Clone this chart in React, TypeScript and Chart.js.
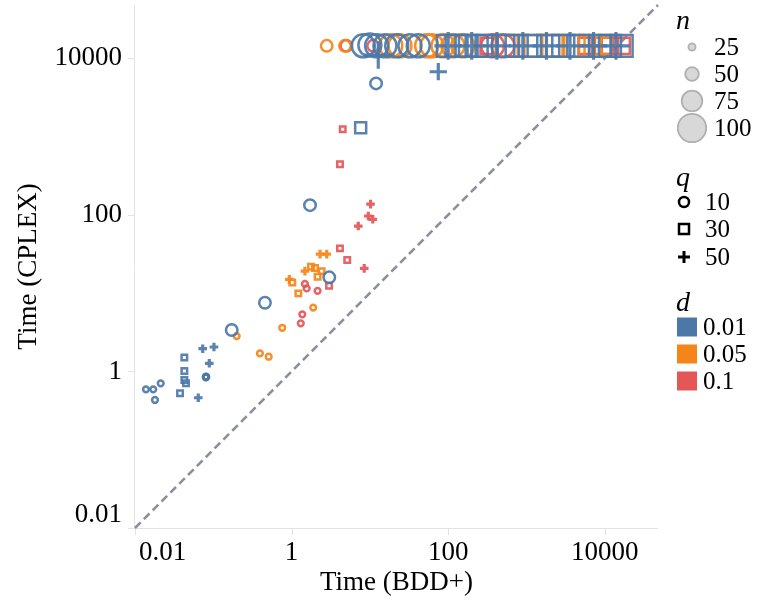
import { useEffect, useRef } from 'react';
import { Chart, registerables } from 'chart.js';

Chart.register(...registerables);

// [Time (BDD+), Time (CPLEX), n]
type Pt = [number, number, number];

const TICK_VALUES = [0.01, 1, 100, 10000];
const TICK_LABELS = ['0.01', '1', '100', '10000'];
const AXIS_MIN = 0.01;
const AXIS_MAX = 47900;
const DIAGONAL = [0.01, 47900];
const N_LEVELS = [25, 50, 75, 100];
const Q_LEVELS = ['10', '30', '50'];
const D_LEVELS = ['0.01', '0.05', '0.1'];
const X_TITLE = 'Time (BDD+)';
const Y_TITLE = 'Time (CPLEX)';

// d = 0.01
const blueCircles: Pt[] = [
  [0.0138, 0.59, 25], [0.0171, 0.59, 25], [0.0213, 0.705, 25], [0.018, 0.432, 25],
  [0.0805, 0.86, 25], [0.0812, 0.85, 25], [0.0808, 0.845, 25], [0.0803, 0.84, 25],
  [0.172, 3.38, 50], [0.457, 7.54, 50], [3.03, 15.9, 50], [1.72, 133, 50], [12.0, 4775, 50],
  [8.24, 14400, 100], [10.0, 14800, 100], [12.2, 14400, 100], [15.6, 14400, 100],
  [22.0, 14400, 100], [32.5, 14400, 100], [41.5, 14400, 100],
];
const blueSquares: Pt[] = [
  [0.0427, 1.51, 25], [0.0427, 1.01, 25], [0.0427, 0.776, 25], [0.0448, 0.705, 25], [0.0376, 0.525, 25],
  [7.63, 1295, 50],
  [99.4, 14400, 100], [128, 14400, 100], [172, 14400, 100], [231, 14400, 100], [310, 14400, 100],
  [506, 14400, 100], [750, 14400, 100], [1109, 14400, 100], [1897, 14400, 100], [2951, 14400, 100],
  [4590, 14400, 100], [8690, 14400, 100], [11650, 14400, 100], [16430, 14400, 100],
];
const bluePlus: Pt[] = [
  [0.0733, 1.95, 25], [0.102, 2.05, 25], [0.0889, 1.27, 25], [0.0643, 0.461, 25],
  [74.8, 6730, 50], [12.8, 11000, 100],
  [100, 14400, 100], [200, 14400, 100], [420, 14400, 100], [900, 14400, 100],
  [1800, 14400, 100], [3600, 14400, 100], [7200, 14400, 100], [13900, 14400, 100],
];
// d = 0.05
const orangeCircles: Pt[] = [
  [0.199, 2.83, 25], [0.76, 3.61, 25], [1.89, 6.54, 25], [0.394, 1.7, 25], [0.51, 1.54, 25],
  [2.81, 14400, 50], [4.81, 14400, 50], [18.5, 14400, 100], [24.2, 14400, 100], [53.1, 14400, 100],
  [62, 14400, 100], [85.9, 14400, 100], [115, 14400, 100], [154, 14400, 100],
];
const orangeSquares: Pt[] = [
  [1.77, 21.7, 25], [2.42, 19.1, 25], [2.15, 16.2, 25], [1.02, 13.7, 25], [1.22, 9.93, 25], [1.99, 20.9, 25],
  [560, 14400, 100], [1300, 14400, 100], [2200, 14400, 100], [4000, 14400, 100], [6500, 14400, 100],
  [9500, 14400, 75],
];
const orangePlus: Pt[] = [
  [2.31, 31.5, 25], [2.81, 31.5, 25], [1.48, 19.1, 25], [0.936, 15.0, 25],
];
// d = 0.1
const redCircles: Pt[] = [
  [1.37, 5.36, 25], [1.31, 4.11, 25], [1.48, 13.1, 25], [1.56, 11.5, 25], [2.15, 10.7, 25],
  [5.0, 14400, 50], [11.0, 14400, 50], [370, 14400, 100], [500, 14400, 100],
];
const redSquares: Pt[] = [
  [4.5, 1236, 25], [4.15, 442, 25], [4.15, 37.3, 25], [5.14, 26.5, 25], [3.01, 12.4, 25],
  [330, 14400, 75], [5875, 14400, 75], [11650, 14400, 75], [16430, 14400, 75],
];
const redPlus: Pt[] = [
  [10.2, 137, 25], [9.55, 96.6, 25], [10.9, 87.7, 25], [7.11, 71.9, 25], [8.47, 20.7, 25],
  [7000, 14400, 75],
];

const BLUE = 'rgba(76,120,168,0.92)';
const ORANGE = 'rgba(245,133,24,0.92)';
const RED = 'rgba(228,87,86,0.92)';
const D_COLORS = ['#4c78a8', '#f58518', '#e45756'];
const SERIF = '"Liberation Serif", serif';

const baseRadius = (n: number) => 0.115 * n;
const SHAPE_FACTOR: Record<string, number> = { circle: 1, rect: 1.35, cross: 1.5 };
const SHAPE_WIDTH: Record<string, number> = { circle: 2.5, rect: 2.5, cross: 3.2 };

function makeSet(points: Pt[], color: string, shape: string) {
  return {
    data: points.map(([x, y, n]) => ({ x, y, n })),
    pointStyle: shape,
    borderColor: color,
    backgroundColor: 'rgba(0,0,0,0)',
    pointBorderColor: color,
    pointBackgroundColor: 'rgba(0,0,0,0)',
    pointBorderWidth: SHAPE_WIDTH[shape],
    pointRadius: (ctx: any) => {
      const n = ctx.raw ? ctx.raw.n : 25;
      const f = shape === 'cross' && n >= 75 ? 1.2 : SHAPE_FACTOR[shape];
      return baseRadius(n) * f;
    },
    showLine: false,
    clip: false as any,
  };
}

const decorPlugin = {
  id: 'decor',
  beforeDatasetsDraw(chart: any) {
    const { ctx, chartArea } = chart;
    const xs = chart.scales.x;
    const ys = chart.scales.y;
    ctx.save();
    ctx.strokeStyle = '#e2e2e2';
    ctx.lineWidth = 1;
    ctx.beginPath();
    ctx.moveTo(chartArea.left - 0.5, chartArea.top);
    ctx.lineTo(chartArea.left - 0.5, chartArea.bottom + 0.5);
    ctx.lineTo(chartArea.right, chartArea.bottom + 0.5);
    for (const v of TICK_VALUES) {
      const py = Math.round(ys.getPixelForValue(v)) + 0.5;
      ctx.moveTo(chartArea.left - 7, py);
      ctx.lineTo(chartArea.left, py);
      const px = Math.round(xs.getPixelForValue(v)) + 0.5;
      ctx.moveTo(px, chartArea.bottom);
      ctx.lineTo(px, chartArea.bottom + 7);
    }
    ctx.stroke();
    ctx.restore();
  },
  afterDraw(chart: any) {
    const { ctx, chartArea } = chart;
    const xs = chart.scales.x;
    const ys = chart.scales.y;
    ctx.save();
    ctx.fillStyle = '#000';
    ctx.font = `27px ${SERIF}`;
    // y tick labels
    ctx.textAlign = 'right';
    TICK_VALUES.forEach((v, i) => {
      const py = ys.getPixelForValue(v);
      if (i === 0) {
        ctx.textBaseline = 'alphabetic';
        ctx.fillText(TICK_LABELS[i], 122, chartArea.bottom - 6);
      } else {
        ctx.textBaseline = 'middle';
        ctx.fillText(TICK_LABELS[i], 122, py);
      }
    });
    // x tick labels
    ctx.textBaseline = 'alphabetic';
    TICK_VALUES.forEach((v, i) => {
      const px = xs.getPixelForValue(v);
      if (i === 0) {
        ctx.textAlign = 'left';
        ctx.fillText(TICK_LABELS[i], chartArea.left + 4, 560);
      } else {
        ctx.textAlign = 'center';
        ctx.fillText(TICK_LABELS[i], px, 560);
      }
    });
    // titles
    ctx.textAlign = 'center';
    ctx.fillText(X_TITLE, (chartArea.left + chartArea.right) / 2, 590);
    ctx.save();
    ctx.translate(36, (chartArea.top + chartArea.bottom) / 2);
    ctx.rotate(-Math.PI / 2);
    ctx.fillText(Y_TITLE, 0, 0);
    ctx.restore();

    // legend: n
    ctx.textAlign = 'left';
    ctx.font = `italic 28px ${SERIF}`;
    ctx.textBaseline = 'alphabetic';
    ctx.fillText('n', 676, 29);
    const sizeY = [47, 74, 101, 128];
    const sizeR = [3.6, 6.8, 10.3, 14.2];
    ctx.font = `25px ${SERIF}`;
    ctx.textBaseline = 'middle';
    N_LEVELS.forEach((n, i) => {
      ctx.beginPath();
      ctx.arc(692, sizeY[i], sizeR[i], 0, Math.PI * 2);
      ctx.fillStyle = 'rgba(200,200,200,0.7)';
      ctx.fill();
      ctx.lineWidth = 1.8;
      ctx.strokeStyle = 'rgba(170,170,170,0.9)';
      ctx.stroke();
      ctx.fillStyle = '#000';
      ctx.fillText(String(n), 714, sizeY[i] + 1);
    });

    // legend: q
    ctx.font = `italic 28px ${SERIF}`;
    ctx.textBaseline = 'alphabetic';
    ctx.fillText('q', 676, 186);
    const qY = [202, 229, 257];
    ctx.font = `25px ${SERIF}`;
    ctx.textBaseline = 'middle';
    ctx.strokeStyle = '#000';
    Q_LEVELS.forEach((q, i) => {
      const cy = qY[i];
      ctx.beginPath();
      if (i === 0) {
        ctx.lineWidth = 2.5;
        ctx.arc(684, cy, 5, 0, Math.PI * 2);
      } else if (i === 1) {
        ctx.lineWidth = 2.5;
        ctx.rect(679, cy - 5, 10, 10);
      } else {
        ctx.lineWidth = 3;
        ctx.moveTo(678, cy);
        ctx.lineTo(690, cy);
        ctx.moveTo(684, cy - 6);
        ctx.lineTo(684, cy + 6);
      }
      ctx.stroke();
      ctx.fillText(q, 705, cy + 1);
    });

    // legend: d
    ctx.font = `italic 28px ${SERIF}`;
    ctx.textBaseline = 'alphabetic';
    ctx.fillText('d', 676, 311);
    const dY = [327, 354, 381];
    ctx.font = `25px ${SERIF}`;
    ctx.textBaseline = 'middle';
    D_LEVELS.forEach((d, i) => {
      ctx.fillStyle = D_COLORS[i];
      ctx.fillRect(677, dY[i] - 9.5, 20, 19);
      ctx.fillStyle = '#000';
      ctx.fillText(d, 703, dY[i] + 1);
    });
    ctx.restore();
  },
};

export default function App() {
  const canvasRef = useRef<HTMLCanvasElement | null>(null);

  useEffect(() => {
    const canvas = canvasRef.current;
    if (!canvas) return;
    const chart = new Chart(canvas, {
      type: 'scatter',
      data: {
        datasets: [
          makeSet(blueCircles, BLUE, 'circle'),
          makeSet(blueSquares, BLUE, 'rect'),
          makeSet(bluePlus, BLUE, 'cross'),
          makeSet(orangeCircles, ORANGE, 'circle'),
          makeSet(orangeSquares, ORANGE, 'rect'),
          makeSet(orangePlus, ORANGE, 'cross'),
          makeSet(redCircles, RED, 'circle'),
          makeSet(redSquares, RED, 'rect'),
          makeSet(redPlus, RED, 'cross'),
          {
            data: DIAGONAL.map((v) => ({ x: v, y: v })),
            showLine: true,
            pointRadius: 0,
            borderColor: '#8a90a2',
            borderWidth: 2.6,
            borderDash: [8, 4.5],
            order: 10,
            clip: false as any,
          } as any,
        ] as any,
      },
      options: {
        responsive: false,
        animation: false,
        devicePixelRatio: 1,
        events: [],
        layout: {
          autoPadding: false,
          padding: { left: 135, right: 99, top: 5, bottom: 75 },
        },
        plugins: {
          legend: { display: false },
          tooltip: { enabled: false },
        },
        scales: {
          x: {
            type: 'logarithmic',
            min: AXIS_MIN,
            max: AXIS_MAX,
            bounds: 'data',
            display: false,
          },
          y: {
            type: 'logarithmic',
            min: AXIS_MIN,
            max: AXIS_MAX,
            bounds: 'data',
            display: false,
          },
        },
      } as any,
      plugins: [decorPlugin],
    });
    return () => chart.destroy();
  }, []);

  return (
    <div style={{ position: 'absolute', left: 0, top: 0, width: 757, height: 603, background: '#fff' }}>
      <canvas ref={canvasRef} width={757} height={603} style={{ display: 'block' }} />
    </div>
  );
}
